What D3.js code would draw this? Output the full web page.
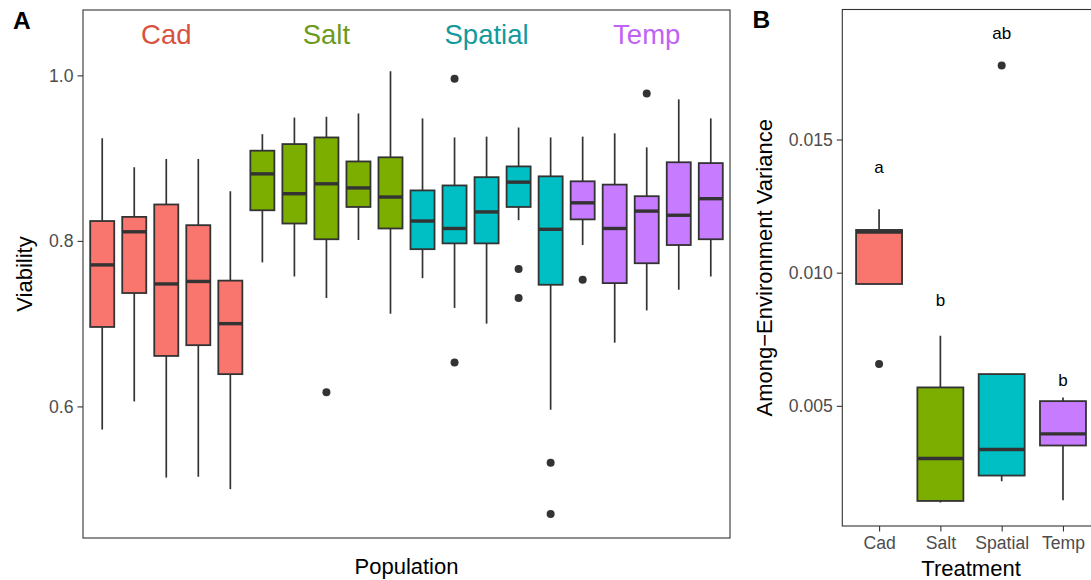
<!DOCTYPE html>
<html>
<head>
<meta charset="utf-8">
<script src="https://cdn.jsdelivr.net/npm/d3@7"></script>
<style>
  html, body { margin: 0; padding: 0; background: #fff; }
  svg { display: block; font-family: "Liberation Sans", Arial, Helvetica, sans-serif; }
</style>
</head>
<body>
<svg id="chart" width="1091" height="580"></svg>
<script>
// ---------- Data: Panel A (Viability by population) ----------
const treatments = ["Cad", "Salt", "Spatial", "Temp"];
const fillColors = ["#F8766D", "#7CAE00", "#00BFC4", "#C77CFF"];
const labelColors = ["#D8533F", "#6C9A1C", "#139A9E", "#C062F5"];

const populations = ["C1","C2","C3","C4","C5","S1","S2","S3","S4","S5",
                     "P1","P2","P3","P4","P5","T1","T2","T3","T4","T5"];
const popTreatment = ["Cad","Cad","Cad","Cad","Cad","Salt","Salt","Salt","Salt","Salt",
                      "Spatial","Spatial","Spatial","Spatial","Spatial","Temp","Temp","Temp","Temp","Temp"];
const popLower  = [0.572, 0.606, 0.514, 0.515, 0.500, 0.774, 0.757, 0.731, 0.801, 0.712,
                   0.755, 0.719, 0.700, 0.825, 0.596, 0.795, 0.677, 0.716, 0.741, 0.757];
const popQ1     = [0.696, 0.737, 0.661, 0.674, 0.639, 0.837, 0.821, 0.802, 0.841, 0.815,
                   0.790, 0.797, 0.797, 0.841, 0.747, 0.826, 0.749, 0.773, 0.795, 0.802];
const popMedian = [0.771, 0.811, 0.748, 0.751, 0.700, 0.881, 0.857, 0.869, 0.864, 0.853,
                   0.824, 0.815, 0.835, 0.871, 0.814, 0.846, 0.815, 0.836, 0.831, 0.851];
const popQ3     = [0.824, 0.829, 0.844, 0.819, 0.752, 0.909, 0.917, 0.925, 0.896, 0.901,
                   0.861, 0.867, 0.877, 0.890, 0.878, 0.872, 0.868, 0.854, 0.895, 0.894];
const popUpper  = [0.924, 0.889, 0.899, 0.899, 0.860, 0.929, 0.949, 0.950, 0.954, 1.005,
                   0.948, 0.925, 0.926, 0.937, 0.925, 0.926, 0.930, 0.913, 0.971, 0.948];
const outlierPop   = ["S3", "P2", "P2", "P4", "P4", "P5", "P5", "T1", "T3"];
const outlierValue = [0.617, 0.996, 0.653, 0.766, 0.731, 0.532, 0.470, 0.753, 0.978];
const groupLabelPop = ["C3", "S3", "P3", "T3"];
const groupLabelY = 1.05;
const viabilityTicks = [0.6, 0.8, 1.0];

// ---------- Data: Panel B (Among-environment variance by treatment) ----------
const bLower  = [0.009575, 0.00137, 0.002169, 0.001455];
const bQ1     = [0.009575, 0.001429, 0.002383, 0.003511];
const bMedian = [0.01153, 0.003023, 0.003361, 0.003947];
const bQ3     = [0.011605, 0.005692, 0.006192, 0.005177];
const bUpper  = [0.012383, 0.007632, 0.006192, 0.005316];
const bOutlierTreatment = ["Cad", "Spatial"];
const bOutlierValue = [0.006568, 0.017782];
const letterTreatment = ["Cad", "Salt", "Spatial", "Temp"];
const letterText = ["a", "b", "ab", "b"];
const letterY = [0.013962, 0.008974, 0.0190, 0.005966];
const varianceTicks = [0.005, 0.010, 0.015];

// ---------- Drawing ----------
const svg = d3.select("#chart");
const dark = "#333333";
const tickGrey = "#4D4D4D";
const colorOf = d3.scaleOrdinal().domain(treatments).range(fillColors);
const labelColorOf = d3.scaleOrdinal().domain(treatments).range(labelColors);

function expand(lo, hi, f) { const r = hi - lo; return [lo - f * r, hi + f * r]; }

// Panel A geometry
const A = { left: 83, right: 730, top: 10, bottom: 538 };
// ggplot discrete expansion: 0.6 units each side
const unitA = (A.right - A.left) / (populations.length - 1 + 1.2);
const xAc = p => A.left + (0.6 + populations.indexOf(p)) * unitA;
const allA = popLower.concat(outlierValue, [groupLabelY]);
const yA = d3.scaleLinear().domain(expand(d3.min(allA), d3.max(allA), 0.05)).range([A.bottom, A.top]);

const gA = svg.append("g");
const boxW_A = 0.75 * unitA;
populations.forEach((p, i) => {
  const cx = xAc(p);
  const col = colorOf(popTreatment[i]);
  gA.append("line").attr("x1", cx).attr("x2", cx).attr("y1", yA(popUpper[i])).attr("y2", yA(popQ3[i]))
    .attr("stroke", dark).attr("stroke-width", 1.7);
  gA.append("line").attr("x1", cx).attr("x2", cx).attr("y1", yA(popQ1[i])).attr("y2", yA(popLower[i]))
    .attr("stroke", dark).attr("stroke-width", 1.7);
  gA.append("rect").attr("x", cx - boxW_A / 2).attr("width", boxW_A)
    .attr("y", yA(popQ3[i])).attr("height", yA(popQ1[i]) - yA(popQ3[i]))
    .attr("fill", col).attr("stroke", dark).attr("stroke-width", 1.8);
  gA.append("line").attr("x1", cx - boxW_A / 2).attr("x2", cx + boxW_A / 2)
    .attr("y1", yA(popMedian[i])).attr("y2", yA(popMedian[i]))
    .attr("stroke", dark).attr("stroke-width", 3.4);
});
outlierPop.forEach((p, i) => {
  gA.append("circle").attr("cx", xAc(p)).attr("cy", yA(outlierValue[i])).attr("r", 4).attr("fill", dark);
});
groupLabelPop.forEach((p, i) => {
  gA.append("text").attr("x", xAc(p)).attr("y", yA(groupLabelY)).attr("dy", "0.36em")
    .attr("text-anchor", "middle").attr("font-size", 27.5).attr("fill", labelColorOf(treatments[i]))
    .text(treatments[i]);
});
gA.append("rect").attr("x", A.left).attr("y", A.top).attr("width", A.right - A.left).attr("height", A.bottom - A.top)
  .attr("fill", "none").attr("stroke", dark).attr("stroke-width", 1.1);
const axA = d3.axisLeft(yA).tickValues(viabilityTicks).tickFormat(d3.format(".1f")).tickSize(5.5).tickPadding(4);
const gAxA = svg.append("g").attr("transform", `translate(${A.left},0)`).call(axA);
gAxA.select(".domain").remove();
gAxA.selectAll(".tick line").attr("stroke", dark).attr("stroke-width", 1.1);
gAxA.selectAll(".tick text").attr("fill", tickGrey).attr("font-size", 17.6)
  .attr("font-family", "Liberation Sans, Arial, sans-serif");
svg.append("text").attr("x", (A.left + A.right) / 2).attr("y", 573.5).attr("text-anchor", "middle")
  .attr("font-size", 22).attr("fill", "#000").text("Population");
svg.append("text").attr("transform", `translate(32,${(A.top + A.bottom) / 2}) rotate(-90)`)
  .attr("text-anchor", "middle").attr("font-size", 22).attr("fill", "#000").text("Viability");
svg.append("text").attr("x", 13).attr("y", 29.3).attr("font-size", 24.5).attr("font-weight", "bold").text("A");

// Panel B geometry
const B = { left: 842.3, top: 9.5, bottom: 526 };
const unitB = 61.3;
B.right = B.left + unitB * (treatments.length - 1 + 1.2);
const xBc = t => B.left + (0.6 + treatments.indexOf(t)) * unitB;
const allB = bLower.concat(bOutlierValue, letterY);
const yB = d3.scaleLinear().domain(expand(d3.min(allB), d3.max(allB), 0.05)).range([B.bottom, B.top]);
const gB = svg.append("g");
const boxW_B = 0.75 * unitB;
treatments.forEach((t, i) => {
  const cx = xBc(t);
  if (bUpper[i] > bQ3[i]) gB.append("line").attr("x1", cx).attr("x2", cx).attr("y1", yB(bUpper[i])).attr("y2", yB(bQ3[i]))
    .attr("stroke", dark).attr("stroke-width", 1.7);
  if (bLower[i] < bQ1[i]) gB.append("line").attr("x1", cx).attr("x2", cx).attr("y1", yB(bQ1[i])).attr("y2", yB(bLower[i]))
    .attr("stroke", dark).attr("stroke-width", 1.7);
  gB.append("rect").attr("x", cx - boxW_B / 2).attr("width", boxW_B)
    .attr("y", yB(bQ3[i])).attr("height", yB(bQ1[i]) - yB(bQ3[i]))
    .attr("fill", colorOf(t)).attr("stroke", dark).attr("stroke-width", 1.8);
  gB.append("line").attr("x1", cx - boxW_B / 2).attr("x2", cx + boxW_B / 2)
    .attr("y1", yB(bMedian[i])).attr("y2", yB(bMedian[i]))
    .attr("stroke", dark).attr("stroke-width", 3.4);
});
bOutlierTreatment.forEach((t, i) => {
  gB.append("circle").attr("cx", xBc(t)).attr("cy", yB(bOutlierValue[i])).attr("r", 4).attr("fill", dark);
});
letterTreatment.forEach((t, i) => {
  gB.append("text").attr("x", xBc(t)).attr("y", yB(letterY[i])).attr("dy", "0.35em")
    .attr("text-anchor", "middle").attr("font-size", 17).attr("fill", "#000").text(letterText[i]);
});
gB.append("rect").attr("x", B.left).attr("y", B.top).attr("width", B.right - B.left).attr("height", B.bottom - B.top)
  .attr("fill", "none").attr("stroke", dark).attr("stroke-width", 1.1);
const axBy = d3.axisLeft(yB).tickValues(varianceTicks).tickFormat(d3.format(".3f")).tickSize(5.5).tickPadding(4);
const gAxBy = svg.append("g").attr("transform", `translate(${B.left},0)`).call(axBy);
gAxBy.select(".domain").remove();
gAxBy.selectAll(".tick line").attr("stroke", dark).attr("stroke-width", 1.1);
gAxBy.selectAll(".tick text").attr("fill", tickGrey).attr("font-size", 17.6)
  .attr("font-family", "Liberation Sans, Arial, sans-serif");
const xBscale = d3.scalePoint().domain(treatments).range([xBc(treatments[0]), xBc(treatments[treatments.length - 1])]);
const axBx = d3.axisBottom(xBscale).tickSize(5.5).tickPadding(5);
const gAxBx = svg.append("g").attr("transform", `translate(0,${B.bottom})`).call(axBx);
gAxBx.select(".domain").remove();
gAxBx.selectAll(".tick line").attr("stroke", dark).attr("stroke-width", 1.1);
gAxBx.selectAll(".tick text").attr("fill", tickGrey).attr("font-size", 17.6)
  .attr("font-family", "Liberation Sans, Arial, sans-serif");
svg.append("text").attr("x", (B.left + B.right) / 2).attr("y", 576).attr("text-anchor", "middle")
  .attr("font-size", 22).attr("fill", "#000").text("Treatment");
svg.append("text").attr("transform", `translate(772,${(B.top + B.bottom) / 2}) rotate(-90)`)
  .attr("text-anchor", "middle").attr("font-size", 22).attr("fill", "#000").text("Among\u2212Environment Variance");
svg.append("text").attr("x", 752.5).attr("y", 28.3).attr("font-size", 24.5).attr("font-weight", "bold").text("B");
</script>
</body>
</html>
